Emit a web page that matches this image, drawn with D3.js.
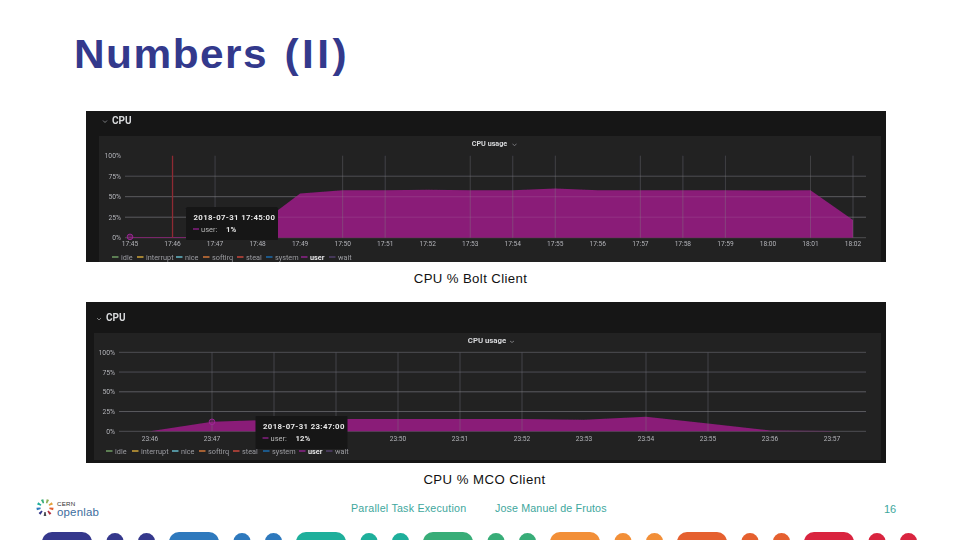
<!DOCTYPE html>
<html>
<head>
<meta charset="utf-8">
<title>Numbers (II)</title>
<script src="https://cdn.jsdelivr.net/npm/d3@7"></script>
<style>
    html, body { margin: 0; padding: 0; background: #fff; }
    svg { display: block; }
    text { font-family: "Liberation Sans", Arial, sans-serif; }
    .dash text { font-family: Roboto, "Liberation Sans", sans-serif; }
</style>
</head>
<body>
<div id="slide"></div>
<script>
// chart values
var legendNames = ["idle", "interrupt", "nice", "softirq", "steal", "system", "user", "wait"];
var legendColors = ["#7eb26d", "#eab839", "#6ed0e0", "#ef843c", "#e24d42", "#1f78c1", "#a0279b", "#584477"];
var yTicks = [0, 25, 50, 75, 100];

var boltTimes = ["17:45", "17:46", "17:47", "17:48", "17:49", "17:50", "17:51", "17:52", "17:53", "17:54", "17:55", "17:56", "17:57", "17:58", "17:59", "18:00", "18:01", "18:02"];
var boltUser = [1, 1, 1, 15, 54, 58, 58, 58.5, 58, 58, 60, 58, 58, 58, 58, 57.5, 58, 21.5];
var boltGrid = ["17:47", "17:50", "17:51", "17:53", "17:54", "17:55", "17:57", "17:58", "17:59", "18:01", "18:02"];
var boltLines = [0, 25, 50, 75];

var mcoTimes = ["23:46", "23:47", "23:48", "23:49", "23:50", "23:51", "23:52", "23:53", "23:54", "23:55", "23:56", "23:57"];
var mcoUser = [0, 12, 14.5, 15.5, 15.5, 15.5, 15.5, 14.5, 18.5, 10, 1, 0.5];
var mcoGrid = ["23:47", "23:48", "23:49", "23:50", "23:51", "23:52", "23:54", "23:55"];
var mcoLines = [0, 25, 50, 75, 100];
var mcoHiddenLabels = ["23:48", "23:49"]; // behind the tooltip in the screenshot

var width = 960, height = 540;

var svg = d3.select("#slide").append("svg")
    .attr("width", width)
    .attr("height", height);

var defs = svg.append("defs");
defs.append("filter").attr("id", "soft")
    .attr("x", "-5%").attr("y", "-5%").attr("width", "110%").attr("height", "110%")
    .append("feGaussianBlur").attr("stdDeviation", 0.4);

var title = svg.append("text")
    .attr("transform", "translate(74,68) scale(1.06,1)")
    .attr("font-size", 40).attr("font-weight", "bold")
    .attr("letter-spacing", 1.4)
    .attr("fill", "#33398c");
title.append("tspan").text("Numbers ");
title.append("tspan").attr("dx", 3).attr("letter-spacing", 3.2).text("(II)");

function drawPanel(o) {
    var g = svg.append("g").attr("class", "dash").attr("filter", "url(#soft)");

    g.append("rect").attr("x", 86).attr("y", o.top).attr("width", 800).attr("height", o.bottom - o.top).attr("fill", "#141517");
    g.append("rect").attr("x", o.innerX).attr("y", o.innerTop).attr("width", 881 - o.innerX).attr("height", o.innerBottom - o.innerTop).attr("fill", "#212124");

    // row header
    g.append("path")
        .attr("d", "M" + (o.rowX - 2) + "," + (o.rowY - 3) + "l2,2l2,-2")
        .attr("fill", "none").attr("stroke", "#999").attr("stroke-width", 0.8);
    g.append("text").attr("x", o.rowX + 7).attr("y", o.rowY).attr("font-size", 10).attr("font-weight", "bold").attr("fill", "#d8d9da").text("CPU");

    // panel title
    g.append("text").attr("x", o.titleX).attr("y", o.titleY).attr("text-anchor", "middle").attr("font-size", o.titleSize).attr("font-weight", "bold").attr("fill", "#d8d9da").text("CPU usage");
    g.append("path")
        .attr("d", "M" + (o.titleX + 23) + "," + (o.titleY - 2) + "l2,1.5l2,-1.5")
        .attr("fill", "none").attr("stroke", "#999").attr("stroke-width", 0.7);

    var x = d3.scalePoint().domain(o.times).range([o.x0, o.x1]);
    var y = d3.scaleLinear().domain([0, 100]).range([o.y0, o.y100]);

    // horizontal grid and labels
    g.selectAll(".hgrid").data(o.lines).enter().append("line")
        .attr("class", "hgrid")
        .attr("x1", o.plotLeft).attr("x2", 866)
        .attr("y1", function (d) { return y(d); })
        .attr("y2", function (d) { return y(d); })
        .attr("stroke", "#626264").attr("stroke-width", 0.7);
    g.selectAll(".ylab").data(yTicks).enter().append("text")
        .attr("class", "ylab")
        .attr("x", o.plotLeft - 4)
        .attr("y", function (d) { return y(d) + 2.5; })
        .attr("text-anchor", "end").attr("font-size", 6.8).attr("fill", "#b4b5b7")
        .text(function (d) { return d + "%"; });

    var area = d3.area()
        .x(function (d) { return x(d.t); })
        .y0(y(0))
        .y1(function (d) { return y(d.v); });
    var series = o.times.map(function (t, i) { return { t: t, v: o.values[i] }; });

    g.append("path").datum(series).attr("d", area).attr("fill", "#8a1f78");

    // vertical grid sits over the fill, only the ones that survive in the screenshot
    g.selectAll(".vgrid").data(o.grid).enter().append("line")
        .attr("class", "vgrid")
        .attr("x1", function (d) { return x(d); })
        .attr("x2", function (d) { return x(d); })
        .attr("y1", o.y100).attr("y2", o.y0)
        .attr("stroke", "#808082").attr("stroke-opacity", 0.65).attr("stroke-width", 0.55);
    g.selectAll(".hover").data(o.lines.filter(function (d) { return d === 25 || d === 50; })).enter().append("line")
        .attr("class", "hover")
        .attr("x1", o.plotLeft).attr("x2", 866)
        .attr("y1", function (d) { return y(d); })
        .attr("y2", function (d) { return y(d); })
        .attr("stroke", "#fff").attr("stroke-opacity", 0.12).attr("stroke-width", 0.7);

    g.selectAll(".xlab").data(o.times.filter(function (t) { return o.hidden.indexOf(t) < 0; })).enter().append("text")
        .attr("class", "xlab")
        .attr("x", function (d) { return x(d); })
        .attr("y", o.y0 + o.labelDy)
        .attr("text-anchor", "middle").attr("font-size", 6.6).attr("fill", "#b4b5b7")
        .text(function (d) { return d; });

    // annotation line, only on the first panel
    if (o.marker) {
        g.append("line")
            .attr("x1", x(o.marker)).attr("x2", x(o.marker))
            .attr("y1", y(100)).attr("y2", y(0))
            .attr("stroke", "#8e2b30").attr("stroke-width", 1.3);
    }

    // hovered point
    var hv = series[o.times.indexOf(o.hoverT)];
    g.append("circle").attr("cx", x(hv.t)).attr("cy", y(hv.v)).attr("r", 2.8)
        .attr("fill", "#8a1f78").attr("fill-opacity", 0.45)
        .attr("stroke", "#a0279b").attr("stroke-width", 0.9);

    // legend
    legendNames.forEach(function (name, i) {
        var lx = o.legendX[i];
        g.append("line").attr("x1", lx - 9).attr("x2", lx - 2.5)
            .attr("y1", o.legendY).attr("y2", o.legendY)
            .attr("stroke", legendColors[i]).attr("stroke-width", 1.3);
        g.append("text").attr("x", lx).attr("y", o.legendY + 2.5)
            .attr("font-size", 7.3).attr("fill", name === "user" ? "#e4e4e4" : "#9c9d9f")
            .attr("font-weight", name === "user" ? "bold" : "normal")
            .text(name);
    });

    // tooltip
    var tip = g.append("g");
    tip.append("rect")
        .attr("x", o.tipX).attr("y", o.tipY).attr("width", 92).attr("height", 33).attr("rx", 1.5)
        .attr("fill", "#141414");
    tip.append("text").attr("x", o.tipX + 7.5).attr("y", o.tipY + 12.5)
        .attr("font-size", 7.8).attr("font-weight", "bold").attr("letter-spacing", 0.35).attr("fill", "#e8e8e8")
        .text(o.tipTitle);
    tip.append("line").attr("x1", o.tipX + 7).attr("x2", o.tipX + 13)
        .attr("y1", o.tipY + 22).attr("y2", o.tipY + 22)
        .attr("stroke", "#a0279b").attr("stroke-width", 1.2);
    tip.append("text").attr("x", o.tipX + 15).attr("y", o.tipY + 24.5)
        .attr("font-size", 7.5).attr("fill", "#b8b8b8").text("user:");
    tip.append("text").attr("x", o.tipX + 40).attr("y", o.tipY + 24.5)
        .attr("font-size", 7.8).attr("font-weight", "bold").attr("fill", "#e8e8e8").text(o.tipValue);
}

drawPanel({
    top: 111, bottom: 262, innerX: 99, innerTop: 136, innerBottom: 262,
    rowX: 105, rowY: 123.5, titleX: 489.5, titleY: 146, titleSize: 7.2,
    times: boltTimes, values: boltUser, grid: boltGrid, lines: boltLines, hidden: [],
    x0: 130, x1: 853, y0: 237.7, y100: 155.7, plotLeft: 125, labelDy: 8.5,
    marker: "17:46", hoverT: "17:45",
    legendX: [121, 146, 185, 212, 246, 275, 310, 338], legendY: 257,
    tipX: 186, tipY: 207, tipTitle: "2018-07-31 17:45:00", tipValue: "1%"
});

drawPanel({
    top: 302, bottom: 463, innerX: 94, innerTop: 333, innerBottom: 460,
    rowX: 99, rowY: 321, titleX: 487, titleY: 343, titleSize: 7.8,
    times: mcoTimes, values: mcoUser, grid: mcoGrid, lines: mcoLines, hidden: mcoHiddenLabels,
    x0: 150, x1: 832, y0: 431.3, y100: 352.3, plotLeft: 119, labelDy: 9.5,
    hoverT: "23:47",
    legendX: [115, 141, 181, 208, 242, 272, 308, 335], legendY: 451,
    tipX: 255.5, tipY: 416, tipTitle: "2018-07-31 23:47:00", tipValue: "12%"
});

// captions
svg.append("text").attr("x", 470.5).attr("y", 283).attr("text-anchor", "middle").attr("font-size", 13.2).attr("letter-spacing", 0.38).attr("fill", "#111").text("CPU % Bolt Client");
svg.append("text").attr("x", 484.5).attr("y", 484).attr("text-anchor", "middle").attr("font-size", 13.2).attr("letter-spacing", 0.45).attr("fill", "#111").text("CPU % MCO Client");

// footer
var teal = "#3ea79d";
svg.append("text").attr("x", 351).attr("y", 512).attr("font-size", 10.7).attr("letter-spacing", 0.22).attr("fill", teal).text("Parallel Task Execution");
svg.append("text").attr("x", 495).attr("y", 512).attr("font-size", 10.7).attr("letter-spacing", 0.14).attr("fill", teal).text("Jose Manuel de Frutos");
svg.append("text").attr("x", 884).attr("y", 513).attr("font-size", 11).attr("fill", teal).text("16");

// logo
var logo = svg.append("g").attr("transform", "translate(45,507.5)");
var logoArc = d3.arc().innerRadius(4.5).outerRadius(8.5);
var logoColors = ["#8fb05a", "#e5a13a", "#e5602f", "#b5303f", "#4a4a52", "#35388c", "#2e79bd", "#1eaf9b", "#38ad78"];
logoColors.forEach(function (c, i) {
    var a = i / logoColors.length * 2 * Math.PI + 0.2;
    logo.append("path").attr("d", logoArc({ startAngle: a, endAngle: a + 0.3 })).attr("fill", c);
});
svg.append("text").attr("x", 57).attr("y", 506).attr("font-size", 6.2).attr("letter-spacing", 0.2).attr("fill", "#333").text("CERN");
svg.append("text").attr("x", 57).attr("y", 516).attr("font-size", 11.5).attr("letter-spacing", 0.15).attr("fill", "#3d6d9e").text("openlab");

// bottom strip
var stripColors = ["#35388c", "#2e79bd", "#1eaf9b", "#38ad78", "#f28f38", "#e5602f", "#d9243f"];
var strip = svg.append("g");
stripColors.forEach(function (c, i) {
    var px = 42 + i * 127;
    strip.append("rect").attr("x", px).attr("y", 532).attr("width", 50).attr("height", 20).attr("rx", 10).attr("fill", c);
    strip.append("circle").attr("cx", px + 73).attr("cy", 541.5).attr("r", 8.5).attr("fill", c);
    strip.append("circle").attr("cx", px + 104.5).attr("cy", 541.5).attr("r", 8.5).attr("fill", c);
});
</script>
</body>
</html>
